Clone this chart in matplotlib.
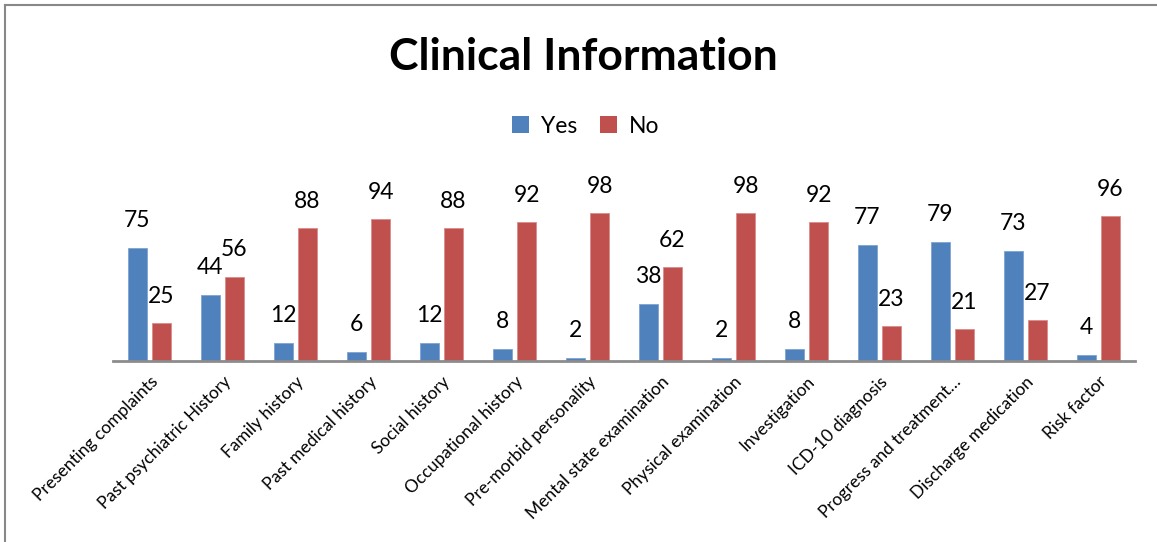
import matplotlib.pyplot as plt
from matplotlib.lines import Line2D
from matplotlib.patches import Patch
import numpy as np

plt.rcParams['font.family'] = ['Lato', 'DejaVu Sans']

# Data
categories = ['Presenting complaints', 'Past psychiatric History', 'Family history',
              'Past medical history', 'Social history', 'Occupational history',
              'Pre-morbid personality', 'Mental state examination', 'Physical examination',
              'Investigation', 'ICD-10 diagnosis', 'Progress and treatment\u2026',
              'Discharge medication', 'Risk factor']
yes_vals = [75, 44, 12, 6, 12, 8, 2, 38, 2, 8, 77, 79, 73, 4]
no_vals = [25, 56, 88, 94, 88, 92, 98, 62, 98, 92, 23, 21, 27, 96]

blue = '#4F81BD'
red = '#C0504D'

fig = plt.figure(figsize=(11.57, 5.42), dpi=100)
ax = fig.add_axes([113 / 1157, 181 / 542, 1022 / 1157, 181 / 542])

x = np.arange(len(categories))
w = 0.26
off = 0.165
b1 = ax.bar(x - off, yes_vals, w, color=blue, edgecolor='#7FA3D3', linewidth=0.6, label='Yes')
b2 = ax.bar(x + off, no_vals, w, color=red, edgecolor='#D88C8A', linewidth=0.6, label='No')

for bars in (b1, b2):
    for rect in bars:
        h = rect.get_height()
        ax.annotate(str(int(h)), (rect.get_x() + rect.get_width() / 2, h),
                    xytext=(0, 12), textcoords='offset points',
                    ha='center', va='bottom', fontsize=16.5, color='black')

ax.set_xlim(-0.5, len(categories) - 0.5)
ax.set_ylim(0, 120)
ax.set_yticks([])
for s in ('top', 'right', 'left'):
    ax.spines[s].set_visible(False)
ax.spines['bottom'].set_color('#8C8C8C')
ax.spines['bottom'].set_linewidth(2)

ax.set_xticks(x)
ax.set_xticklabels(categories, rotation=45, ha='right', rotation_mode='anchor', fontsize=12.5)
ax.tick_params(axis='x', length=0, pad=9)

fig.text(0.504, 0.895, 'Clinical Information', ha='center', va='center',
         fontsize=32, fontweight='bold')

handles = [Patch(facecolor=blue, label='Yes'), Patch(facecolor=red, label='No')]
fig.legend(handles=handles, loc='center', bbox_to_anchor=(0.506, 0.767), ncol=2,
           frameon=False, fontsize=16.5, handlelength=0.75, handleheight=0.75,
           handletextpad=0.5, columnspacing=1.0)

# outer chart border
fig.add_artist(Line2D([4.5 / 1157, 4.5 / 1157], [0, 1 - 4.5 / 542], color='#888888', lw=1.5))
fig.add_artist(Line2D([4.5 / 1157, 1], [1 - 4.5 / 542, 1 - 4.5 / 542], color='#888888', lw=1.5))

fig.savefig('out.png', dpi=100)
